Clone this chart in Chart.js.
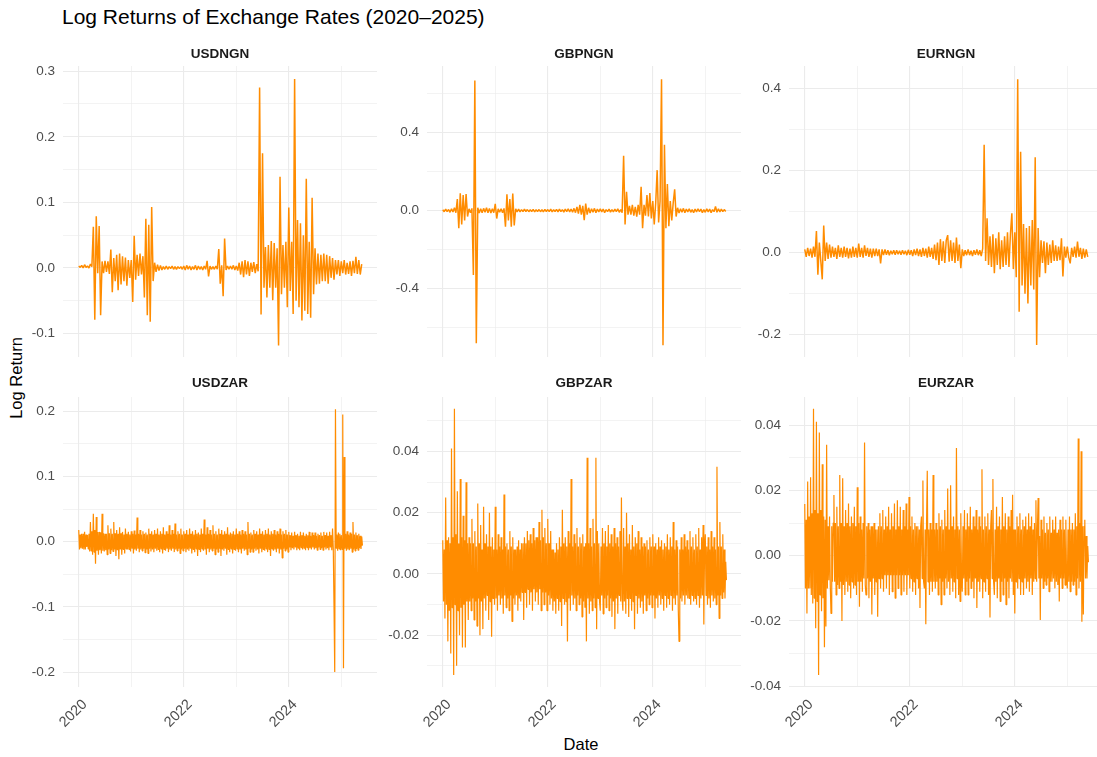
<!DOCTYPE html>
<html>
<head>
<meta charset="utf-8">
<title>Log Returns of Exchange Rates</title>
<script src="https://cdn.jsdelivr.net/npm/chart.js@4.4.1/dist/chart.umd.min.js"></script>
<style>
  html, body { margin: 0; padding: 0; background: #fff; }
  body { width: 1097px; height: 757px; position: relative; overflow: hidden; font-family: "Liberation Sans", Arial, sans-serif; }
  .title { position: absolute; left: 62px; top: 6px; font-size: 21px; line-height: 21px; color: #000; white-space: nowrap; }
  .strip { position: absolute; width: 314px; text-align: center; font-size: 13.5px; font-weight: bold; line-height: 14px; color: #1a1a1a; }
  .ytitle { position: absolute; left: 16px; top: 378px; transform: translate(-50%, -50%) rotate(-90deg); font-size: 16.5px; white-space: nowrap; color: #000; }
  .xtitle { position: absolute; left: 581px; top: 744px; transform: translate(-50%, -50%); font-size: 16.5px; color: #000; }
  canvas { position: absolute; }
</style>
</head>
<body>
<div class="title">Log Returns of Exchange Rates (2020–2025)</div>
<div class="ytitle">Log Return</div>
<div class="xtitle">Date</div>

<script>
// Time axis, starting Jan 2020
const startYear = 2020;
const ngnStep = 1 / 36;   // NGN series: a value about every 10 days
const zarStep = 1 / 72;   // ZAR series: a value about every 5 days
const xMajor = [2020, 2022, 2024];
const xMinor = [2021, 2023, 2025];
const xMin = 2019.70;
const xMax = 2025.68;

// NGN series (each row is half a year)
const usdngn = [
  0.003, 0.001, 0.004, 0.000, 0.005, 0.001, 0.003, 0.000, 0.006, 0.002, 0.063, -0.079, 0.079, -0.008, 0.064, -0.072, 0.010, -0.008,
  0.011, -0.006, 0.010, -0.009, 0.028, -0.037, 0.015, -0.020, 0.020, -0.034, 0.022, -0.025, 0.018, -0.020, 0.016, -0.027, 0.012, -0.015,
  0.012, -0.052, 0.049, -0.018, 0.020, -0.012, 0.022, -0.010, 0.018, -0.045, 0.075, -0.072, 0.066, -0.082, 0.093, -0.020, 0.008, -0.006,
  0.005, -0.004, 0.004, -0.003, 0.002, -0.002, 0.003, -0.002, 0.002, -0.001, 0.003, -0.002, 0.002, -0.002, 0.002, -0.001, 0.002, -0.002,
  0.003, -0.003, 0.004, -0.002, 0.003, -0.003, 0.002, -0.002, 0.004, -0.003, 0.003, -0.002, 0.002, -0.003, 0.003, -0.002, 0.011, -0.013,
  0.003, -0.002, 0.002, -0.002, 0.003, -0.002, 0.029, -0.024, 0.004, -0.043, 0.045, -0.003, 0.003, -0.002, 0.003, -0.002, 0.004, -0.003,
  0.003, -0.004, 0.008, -0.010, 0.010, -0.014, 0.012, -0.010, 0.010, -0.012, 0.008, -0.006, 0.009, -0.008, 0.006, -0.005, 0.275, -0.071,
  0.175, -0.030, 0.032, -0.045, 0.035, -0.030, 0.041, -0.049, 0.038, -0.030, 0.030, -0.118, 0.139, -0.040, 0.035, -0.030, 0.040, -0.060,
  0.092, -0.035, 0.040, -0.070, 0.288, -0.050, 0.073, -0.060, 0.068, -0.080, 0.050, -0.065, 0.136, -0.070, 0.040, -0.076, 0.107, -0.040,
  0.030, -0.025, 0.022, -0.024, 0.020, -0.020, 0.022, -0.020, 0.020, -0.024, 0.018, -0.015, 0.015, -0.018, 0.012, -0.010, 0.012, -0.012,
  0.010, -0.008, 0.012, -0.010, 0.008, -0.009, 0.010, -0.012, 0.011, -0.008, 0.017, -0.009, 0.012, -0.010, 0.006
];

const gbpngn = [
  0.005, -0.005, 0.008, -0.004, 0.006, -0.008, 0.010, -0.006, 0.015, -0.010, 0.060, -0.090, 0.089, -0.070, 0.080, -0.050, 0.085, -0.030,
  0.010, -0.010, 0.012, -0.330, 0.667, -0.680, 0.015, -0.012, 0.010, -0.010, 0.012, -0.008, 0.015, -0.010, 0.012, -0.012, 0.010, -0.010,
  0.035, -0.040, 0.010, -0.008, 0.010, -0.010, 0.012, -0.082, 0.084, -0.050, 0.060, -0.082, 0.088, -0.075, 0.010, -0.006, 0.008, -0.006,
  0.006, -0.005, 0.008, -0.004, 0.006, -0.005, 0.005, -0.004, 0.007, -0.006, 0.005, -0.004, 0.006, -0.005, 0.005, -0.006, 0.007, -0.004,
  0.006, -0.005, 0.008, -0.006, 0.005, -0.004, 0.007, -0.006, 0.008, -0.005, 0.006, -0.007, 0.008, -0.005, 0.010, -0.006, 0.009, -0.008,
  0.012, -0.010, 0.020, -0.015, 0.030, -0.020, 0.025, -0.048, 0.037, -0.020, 0.015, -0.012, 0.010, -0.008, 0.012, -0.010, 0.008, -0.006,
  0.010, -0.006, 0.008, -0.010, 0.006, -0.005, 0.008, -0.007, 0.006, -0.006, 0.008, -0.005, 0.010, -0.008, 0.006, -0.010, 0.282, -0.070,
  0.097, -0.020, 0.025, -0.020, 0.030, -0.025, 0.020, -0.030, 0.030, -0.020, 0.123, -0.090, 0.030, -0.025, 0.080, -0.030, 0.090, -0.040,
  0.050, -0.070, 0.040, 0.208, -0.060, 0.050, 0.674, -0.690, 0.338, -0.090, 0.137, -0.080, 0.050, -0.050, 0.040, 0.110, -0.030, 0.015,
  -0.012, 0.010, -0.008, 0.012, -0.010, 0.008, -0.006, 0.010, -0.008, 0.006, -0.010, 0.008, -0.006, 0.010, -0.005, 0.008, -0.010, 0.006,
  -0.008, 0.010, -0.006, 0.008, -0.010, 0.006, -0.005, 0.022, -0.008, 0.010, -0.006, 0.008, -0.005, 0.006, -0.004
];

const eurngn = [
  0.008, -0.010, 0.012, -0.008, 0.010, -0.012, 0.015, -0.010, 0.053, -0.054, 0.025, -0.020, -0.065, 0.066, -0.020, 0.025, -0.015, 0.020,
  -0.012, 0.015, -0.010, 0.012, -0.015, 0.018, -0.010, 0.012, -0.012, 0.015, -0.010, 0.012, -0.014, 0.010, -0.012, 0.015, -0.010, 0.012,
  -0.012, 0.022, -0.010, 0.012, -0.012, 0.018, -0.008, 0.012, -0.010, 0.010, -0.012, 0.010, -0.008, 0.010, -0.008, 0.008, -0.026, 0.008,
  -0.006, 0.008, -0.005, 0.006, -0.006, 0.005, -0.004, 0.006, -0.005, 0.006, -0.004, 0.005, -0.005, 0.006, -0.004, 0.005, -0.006, 0.007,
  -0.005, 0.006, -0.008, 0.008, -0.006, 0.010, -0.008, 0.008, -0.010, 0.012, -0.008, 0.010, -0.012, 0.015, -0.010, 0.012, -0.015, 0.020,
  -0.018, 0.025, -0.030, 0.033, -0.020, 0.028, -0.025, 0.030, 0.043, -0.022, 0.030, -0.020, 0.025, -0.025, 0.037, -0.020, 0.020, -0.038,
  0.008, -0.008, 0.006, -0.006, 0.008, -0.006, 0.005, -0.008, 0.006, -0.005, 0.008, -0.006, 0.006, -0.008, 0.010, 0.263, -0.020, 0.084,
  -0.030, 0.040, -0.035, 0.045, -0.050, 0.035, -0.030, 0.050, -0.040, 0.030, -0.035, 0.040, -0.030, 0.050, -0.035, 0.045, 0.096, -0.040,
  0.050, -0.060, 0.423, -0.144, 0.246, -0.080, 0.070, -0.100, 0.060, -0.124, 0.065, -0.080, 0.080, -0.090, 0.233, -0.225, 0.060, -0.060,
  0.030, -0.025, 0.028, -0.050, 0.025, -0.030, 0.020, -0.025, 0.030, -0.020, 0.018, -0.020, 0.015, -0.018, 0.035, -0.058, 0.015, -0.012,
  0.015, -0.012, -0.026, 0.012, -0.010, 0.015, -0.012, 0.027, -0.010, 0.012, -0.015, 0.010, -0.012, 0.008, -0.010
];

// ZAR series (each row is half a year)
const usdzar = [
  0.018, -0.012, 0.011, -0.010, 0.012, -0.011, 0.012, -0.012, 0.015, -0.012, 0.011, -0.008, 0.010, -0.011, 0.012, -0.015, 0.030, -0.014, 0.016, -0.020, 0.043, -0.016, 0.018, -0.034, 0.038, -0.014, 0.015, -0.020, 0.015, -0.013, 0.014, -0.018, 0.043, -0.014, 0.013, -0.015,
  0.012, -0.013, 0.012, -0.020, 0.025, -0.012, 0.013, -0.018, 0.020, -0.013, 0.012, -0.015, 0.030, -0.012, 0.013, -0.022, 0.018, -0.013, 0.012, -0.027, 0.022, -0.012, 0.013, -0.020, 0.015, -0.012, 0.011, -0.018, 0.020, -0.011, 0.012, -0.012, 0.015, -0.012, 0.011, -0.015,
  0.016, -0.011, 0.012, -0.018, 0.017, -0.012, 0.011, -0.014, 0.037, -0.011, 0.012, -0.016, 0.018, -0.012, 0.011, -0.014, 0.016, -0.011, 0.012, -0.017, 0.014, -0.012, 0.011, -0.018, 0.020, -0.011, 0.012, -0.015, 0.016, -0.012, 0.011, -0.016, 0.018, -0.011, 0.012, -0.014,
  0.020, -0.012, 0.011, -0.016, 0.016, -0.011, 0.012, -0.018, 0.022, -0.012, 0.011, -0.014, 0.016, -0.011, 0.012, -0.016, 0.025, -0.012, 0.011, -0.014, 0.018, -0.011, 0.012, -0.016, 0.028, -0.012, 0.011, -0.014, 0.016, -0.011, 0.012, -0.018, 0.020, -0.012, 0.011, -0.014,
  0.016, -0.011, 0.012, -0.016, 0.018, -0.012, 0.011, -0.014, 0.020, -0.011, 0.012, -0.018, 0.016, -0.012, 0.011, -0.016, 0.018, -0.011, 0.012, -0.022, 0.014, -0.012, 0.011, -0.016, 0.020, -0.011, 0.012, -0.014, 0.034, -0.012, 0.011, -0.020, 0.022, -0.011, 0.012, -0.016,
  0.018, -0.012, 0.011, -0.014, 0.025, -0.011, 0.012, -0.020, 0.016, -0.012, 0.011, -0.016, 0.020, -0.011, 0.012, -0.022, 0.018, -0.012, 0.011, -0.014, 0.016, -0.011, 0.012, -0.020, 0.022, -0.012, 0.011, -0.016, 0.014, -0.011, 0.012, -0.018, 0.016, -0.012, 0.011, -0.014,
  0.020, -0.011, 0.012, -0.016, 0.016, -0.012, 0.011, -0.018, 0.018, -0.011, 0.012, -0.014, 0.016, -0.012, 0.011, -0.020, 0.030, -0.011, 0.012, -0.016, 0.014, -0.012, 0.011, -0.016, 0.018, -0.011, 0.012, -0.014, 0.016, -0.012, 0.011, -0.018, 0.020, -0.011, 0.012, -0.016,
  0.016, -0.012, 0.011, -0.014, 0.018, -0.011, 0.012, -0.016, 0.020, -0.012, 0.011, -0.022, 0.016, -0.011, 0.012, -0.014, 0.018, -0.012, 0.011, -0.016, 0.016, -0.011, 0.012, -0.018, 0.020, -0.012, 0.011, -0.025, 0.016, -0.011, 0.012, -0.014, 0.018, -0.012, 0.011, -0.016,
  0.015, -0.009, 0.010, -0.013, 0.014, -0.010, 0.009, -0.012, 0.015, -0.009, 0.010, -0.013, 0.012, -0.010, 0.009, -0.013, 0.015, -0.009, 0.010, -0.012, 0.014, -0.010, 0.009, -0.013, 0.012, -0.009, 0.010, -0.013, 0.015, -0.010, 0.009, -0.012, 0.014, -0.009, 0.010, -0.012,
  0.014, -0.010, 0.009, -0.013, 0.012, -0.009, 0.010, -0.012, 0.014, -0.010, 0.009, -0.013, 0.015, -0.009, 0.010, -0.012, 0.014, -0.010, 0.009, -0.013, 0.015, -0.009, 0.010, -0.013, 0.020, -0.010, -0.097, -0.200, 0.203, -0.010, 0.011, -0.014, 0.014, -0.011, 0.012, -0.013,
  0.010, -0.012, 0.195, -0.194, 0.130, -0.011, 0.012, -0.014, 0.016, -0.012, 0.011, -0.013, 0.014, -0.011, 0.012, -0.016, 0.030, -0.012, 0.011, -0.014, 0.014, -0.011, 0.010, -0.013, 0.012, -0.010, 0.009, -0.011, 0.008, -0.006
];

const gbpzar = [
  0.011, -0.009, 0.008, -0.0145, 0.025, -0.010, 0.011, -0.022, 0.012, -0.012, 0.010, -0.026, 0.041, -0.011, 0.012, -0.033, 0.054, -0.010, 0.013, -0.030, 0.027, -0.012, 0.010, -0.020, 0.031, -0.011, 0.012, -0.024, 0.019, -0.010, 0.011, -0.024, 0.030, -0.009, 0.010, -0.015,
  0.012, -0.009, 0.010, -0.012, 0.018, -0.008, 0.010, -0.015, 0.014, -0.009, 0.009, -0.017, 0.023, -0.008, 0.010, -0.020, 0.016, -0.009, 0.008, -0.018, 0.022, -0.008, 0.010, -0.012, 0.013, -0.007, 0.009, -0.015, 0.020, -0.009, 0.009, -0.0205, 0.012, -0.008, 0.008, -0.010,
  0.022, -0.008, 0.008, -0.012, 0.013, -0.007, 0.009, -0.010, 0.012, -0.008, 0.008, -0.013, 0.026, -0.007, 0.009, -0.011, 0.010, -0.008, 0.008, -0.012, 0.014, -0.007, 0.009, -0.0155, 0.012, -0.008, 0.008, -0.010, 0.008, -0.007, 0.009, -0.012, 0.011, -0.008, 0.008, -0.009,
  0.010, -0.006, 0.010, -0.015, 0.012, -0.006, 0.010, -0.011, 0.014, -0.005, 0.011, -0.010, 0.013, -0.006, 0.010, -0.012, 0.015, -0.005, 0.011, -0.009, 0.012, -0.006, 0.012, -0.010, 0.017, -0.005, 0.011, -0.012, 0.021, -0.006, 0.012, -0.010, 0.015, -0.006, 0.010, -0.012,
  0.018, -0.007, 0.010, -0.010, 0.014, -0.008, 0.008, -0.012, 0.008, -0.009, 0.007, -0.013, 0.010, -0.008, 0.008, -0.012, 0.012, -0.009, 0.009, -0.017, 0.021, -0.008, 0.010, -0.010, 0.012, -0.009, 0.009, -0.022, 0.014, -0.008, 0.010, -0.012, 0.031, -0.007, 0.009, -0.010,
  0.013, -0.008, 0.010, -0.012, 0.015, -0.007, 0.009, -0.010, 0.012, -0.008, 0.010, -0.014, 0.013, -0.009, 0.009, -0.011, 0.010, -0.022, 0.038, -0.008, 0.010, -0.013, 0.015, -0.009, 0.009, -0.012, 0.018, -0.008, 0.010, -0.011, 0.038, -0.018, 0.014, -0.008, 0.010, -0.009,
  -0.012, 0.009, -0.007, 0.015, -0.013, 0.010, -0.008, 0.014, -0.011, 0.009, -0.007, 0.016, -0.012, 0.010, -0.008, 0.013, -0.014, 0.009, -0.009, 0.015, -0.018, 0.010, -0.008, 0.012, -0.013, 0.009, -0.007, 0.014, -0.009, 0.025, -0.008, -0.012, 0.015, -0.009, 0.009, -0.013,
  0.020, -0.008, 0.010, -0.014, 0.013, -0.008, 0.008, -0.012, 0.016, -0.009, 0.009, -0.018, 0.012, -0.007, 0.010, -0.013, 0.014, -0.008, 0.008, -0.011, 0.012, -0.009, 0.009, -0.013, 0.010, -0.007, 0.009, -0.012, 0.011, -0.008, 0.008, -0.010, 0.012, -0.007, 0.009, -0.011,
  0.013, -0.007, 0.009, -0.0145, 0.010, -0.008, 0.008, -0.011, 0.012, -0.007, 0.009, -0.010, 0.011, -0.008, 0.008, -0.012, 0.010, -0.007, 0.009, -0.011, 0.013, -0.008, 0.008, -0.010, 0.012, -0.007, 0.009, -0.012, 0.017, -0.008, 0.008, -0.010, 0.011, -0.007, 0.009, -0.012,
  -0.022, 0.008, -0.008, 0.012, -0.009, 0.008, -0.007, 0.013, -0.010, 0.009, -0.007, 0.011, -0.008, 0.008, -0.008, 0.014, -0.010, 0.009, -0.007, 0.012, -0.009, 0.008, -0.008, 0.013, -0.010, 0.009, -0.007, 0.015, -0.011, 0.008, -0.008, 0.012, -0.007, 0.016, -0.0165, 0.008,
  0.013, -0.007, 0.009, -0.010, 0.012, -0.008, 0.008, -0.011, 0.014, -0.007, 0.009, -0.009, 0.012, -0.008, 0.008, -0.010, 0.035, -0.007, 0.009, -0.0145, 0.017, -0.007, 0.009, -0.008, 0.013, -0.006, 0.008, -0.008, 0.004, -0.002
];

const eurzar = [
  0.0158, -0.010, 0.011, -0.0177, 0.0227, -0.010, 0.012, -0.010, 0.024, -0.012, 0.013, -0.0146, 0.045, -0.013, 0.014, -0.0222, 0.041, -0.014, 0.013, -0.0365, 0.0377, -0.012, 0.014, -0.017, 0.028, -0.013, 0.012, -0.028, 0.011, -0.0217, 0.034, -0.010, 0.009, -0.0075, 0.012, -0.009,
  -0.0177, 0.009, -0.008, 0.010, 0.0186, -0.008, 0.010, -0.012, 0.015, -0.009, 0.009, -0.010, 0.0247, -0.008, 0.010, -0.020, 0.0237, -0.009, 0.009, -0.012, 0.014, -0.008, 0.010, -0.011, 0.016, -0.009, 0.009, -0.013, 0.012, -0.008, 0.010, -0.010, 0.015, -0.009, 0.009, -0.012,
  0.021, -0.008, 0.010, -0.0156, 0.012, -0.008, 0.008, -0.011, 0.010, -0.007, 0.0347, -0.009, -0.012, 0.009, -0.007, 0.010, -0.013, 0.008, -0.008, 0.009, -0.018, 0.009, -0.007, 0.010, -0.012, 0.008, -0.008, 0.008, -0.0187, 0.009, -0.007, 0.013, -0.010, 0.009, -0.007, 0.014,
  -0.011, 0.008, -0.006, 0.012, -0.010, 0.009, -0.006, 0.015, -0.012, 0.008, -0.006, 0.013, -0.011, 0.009, -0.006, 0.016, -0.013, 0.008, -0.006, 0.017, -0.010, 0.009, -0.006, 0.015, -0.012, 0.008, -0.006, 0.014, -0.011, 0.009, -0.006, 0.016, -0.012, 0.008, -0.006, 0.018,
  -0.010, 0.009, -0.007, 0.012, -0.011, 0.008, -0.008, 0.010, -0.012, 0.009, -0.007, 0.009, -0.010, 0.008, -0.016, 0.009, 0.012, -0.007, 0.023, -0.008, -0.010, 0.008, -0.021, 0.010, 0.026, -0.008, 0.008, -0.012, 0.010, -0.008, 0.008, -0.011, 0.0247, -0.008, 0.008, -0.010,
  0.010, -0.008, 0.008, -0.012, 0.013, -0.007, 0.009, -0.015, 0.011, -0.008, 0.008, -0.012, 0.014, -0.007, 0.009, -0.010, 0.0206, -0.008, 0.008, -0.012, 0.0216, -0.007, 0.009, -0.011, 0.012, -0.008, 0.008, -0.013, 0.033, -0.007, 0.009, -0.012, 0.008, -0.014, 0.013, -0.007,
  -0.011, 0.009, -0.007, 0.014, -0.012, 0.008, -0.008, 0.013, -0.012, 0.009, -0.007, 0.015, -0.010, 0.008, -0.008, 0.012, -0.013, 0.009, -0.007, 0.014, -0.016, 0.008, -0.008, 0.012, -0.011, 0.009, -0.007, 0.0265, -0.013, 0.008, -0.008, 0.012, -0.011, 0.009, -0.007, 0.013,
  -0.012, 0.008, -0.0189, 0.009, 0.014, -0.007, 0.0235, -0.008, -0.012, 0.008, -0.008, 0.015, -0.013, 0.009, -0.007, 0.012, -0.014, 0.008, -0.008, 0.018, -0.012, 0.009, -0.007, 0.013, -0.015, 0.008, -0.008, 0.012, -0.013, 0.009, -0.007, 0.014, -0.008, 0.0187, -0.012, 0.008,
  -0.0177, 0.008, -0.008, 0.012, -0.010, 0.009, -0.007, 0.013, -0.012, 0.008, -0.008, 0.011, -0.012, 0.009, -0.007, 0.012, -0.010, 0.008, -0.008, 0.013, -0.011, 0.009, -0.007, 0.012, -0.012, 0.008, -0.008, 0.010, -0.007, 0.017, -0.008, 0.008, 0.0177, -0.007, 0.006, -0.0197,
  0.011, -0.007, 0.008, -0.010, 0.012, -0.008, 0.007, -0.009, 0.010, -0.007, 0.008, -0.011, 0.012, -0.008, 0.007, -0.008, 0.011, -0.007, 0.008, -0.010, 0.012, -0.008, 0.007, -0.009, 0.008, -0.014, 0.011, -0.007, 0.008, -0.010, 0.012, -0.007, 0.008, -0.009, 0.011, -0.007,
  -0.010, 0.008, -0.008, 0.012, -0.011, 0.008, -0.008, 0.010, -0.009, 0.008, -0.008, 0.013, -0.012, 0.009, -0.007, 0.0359, -0.010, 0.010, -0.008, 0.032, -0.0202, 0.009, -0.018, 0.009, 0.011, -0.007, 0.006, -0.007, 0.003, -0.002
];

// Y ticks per panel (labelled ones, then minor grid lines)
const usdngnTicks = [-0.1, 0.0, 0.1, 0.2, 0.3];
const usdngnMinor = [-0.05, 0.05, 0.15, 0.25];
const gbpngnTicks = [-0.4, 0.0, 0.4];
const gbpngnMinor = [-0.6, -0.2, 0.2, 0.6];
const eurngnTicks = [-0.2, 0.0, 0.2, 0.4];
const eurngnMinor = [-0.1, 0.1, 0.3];
const usdzarTicks = [-0.2, -0.1, 0.0, 0.1, 0.2];
const usdzarMinor = [-0.15, -0.05, 0.05, 0.15];
const gbpzarTicks = [-0.02, 0.00, 0.02, 0.04];
const gbpzarMinor = [-0.03, -0.01, 0.01, 0.03, 0.05];
const eurzarTicks = [-0.04, -0.02, 0.00, 0.02, 0.04];
const eurzarMinor = [-0.03, -0.01, 0.01, 0.03];

const panels = [
  { name: 'USDNGN', values: usdngn, step: ngnStep, width: 1.5, major: usdngnTicks, minor: usdngnMinor, digits: 1, min: -0.1357, max: 0.3079, col: 0, row: 0 },
  { name: 'GBPNGN', values: gbpngn, step: ngnStep, width: 1.5, major: gbpngnTicks, minor: gbpngnMinor, digits: 1, min: -0.750, max: 0.742, col: 1, row: 0 },
  { name: 'EURNGN', values: eurngn, step: ngnStep, width: 1.5, major: eurngnTicks, minor: eurngnMinor, digits: 1, min: -0.2544, max: 0.4554, col: 2, row: 0 },
  { name: 'USDZAR', values: usdzar, step: zarStep, width: 1.2, major: usdzarTicks, minor: usdzarMinor, digits: 1, min: -0.2229, max: 0.2219, col: 0, row: 1 },
  { name: 'GBPZAR', values: gbpzar, step: zarStep, width: 1.2, major: gbpzarTicks, minor: gbpzarMinor, digits: 2, min: -0.0369, max: 0.0578, col: 1, row: 1 },
  { name: 'EURZAR', values: eurzar, step: zarStep, width: 1.2, major: eurzarTicks, minor: eurzarMinor, digits: 2, min: -0.0402, max: 0.0486, col: 2, row: 1 }
];

// Panel geometry
const colLeft = [63, 427, 789];
const rowTop = [66, 397];
const plotW = 314;
const plotH = [291, 290];
const padL = 60, padT = 20, padR = 20;
const axisH = [20, 70];
const stripTop = [47, 376];

const font = { family: '"Liberation Sans", Arial, sans-serif', size: 13.5 };
const xFont = { family: '"Liberation Sans", Arial, sans-serif', size: 14.5 };
const tickColor = '#4d4d4d';
const gridColor = '#ebebeb';

const isIn = (list, v) => list.some(t => Math.abs(t - v) < 1e-9);

panels.forEach(p => {
  const w = padL + plotW + padR;
  const h = padT + plotH[p.row] + axisH[p.row];
  const canvas = document.createElement('canvas');
  canvas.width = w;
  canvas.height = h;
  canvas.style.width = w + 'px';
  canvas.style.height = h + 'px';
  canvas.style.left = (colLeft[p.col] - padL) + 'px';
  canvas.style.top = (rowTop[p.row] - padT) + 'px';
  document.body.appendChild(canvas);

  const strip = document.createElement('div');
  strip.className = 'strip';
  strip.textContent = p.name;
  strip.style.left = colLeft[p.col] + 'px';
  strip.style.top = stripTop[p.row] + 'px';
  document.body.appendChild(strip);

  const yAll = [...p.minor, ...p.major].sort((a, b) => a - b);
  const xAll = [...xMajor, ...xMinor].sort((a, b) => a - b);

  new Chart(canvas, {
    type: 'line',
    data: {
      datasets: [{
        data: p.values.map((v, i) => ({ x: startYear + i * p.step, y: v })),
        borderColor: '#ff8c00',
        borderWidth: p.width,
        borderJoinStyle: 'bevel',
        pointRadius: 0,
        tension: 0,
        fill: false
      }]
    },
    options: {
      responsive: false,
      animation: false,
      devicePixelRatio: 1,
      layout: { padding: { top: padT, right: padR, left: 0, bottom: 0 } },
      plugins: { legend: { display: false }, tooltip: { enabled: false } },
      scales: {
        x: {
          type: 'linear',
          min: xMin,
          max: xMax,
          afterBuildTicks: s => { s.ticks = xAll.map(v => ({ value: v })); },
          afterFit: s => { s.height = axisH[p.row]; },
          border: { display: false },
          grid: {
            drawTicks: false,
            color: gridColor,
            lineWidth: ctx => isIn(xMajor, ctx.tick.value) ? 1.1 : 0.6
          },
          ticks: {
            display: p.row === 1,
            autoSkip: false,
            minRotation: 45,
            maxRotation: 45,
            padding: 9,
            labelOffset: 6,
            font: xFont,
            color: tickColor,
            callback: v => isIn(xMajor, v) ? String(v) : ''
          }
        },
        y: {
          min: p.min,
          max: p.max,
          afterBuildTicks: s => { s.ticks = yAll.map(v => ({ value: v })); },
          afterFit: s => { s.width = padL; },
          border: { display: false },
          grid: {
            drawTicks: false,
            color: gridColor,
            lineWidth: ctx => isIn(p.major, ctx.tick.value) ? 1.1 : 0.6
          },
          ticks: {
            autoSkip: false,
            padding: 8,
            font: font,
            color: tickColor,
            callback: v => isIn(p.major, v) ? v.toFixed(p.digits) : ''
          }
        }
      }
    }
  });
});
</script>
</body>
</html>
